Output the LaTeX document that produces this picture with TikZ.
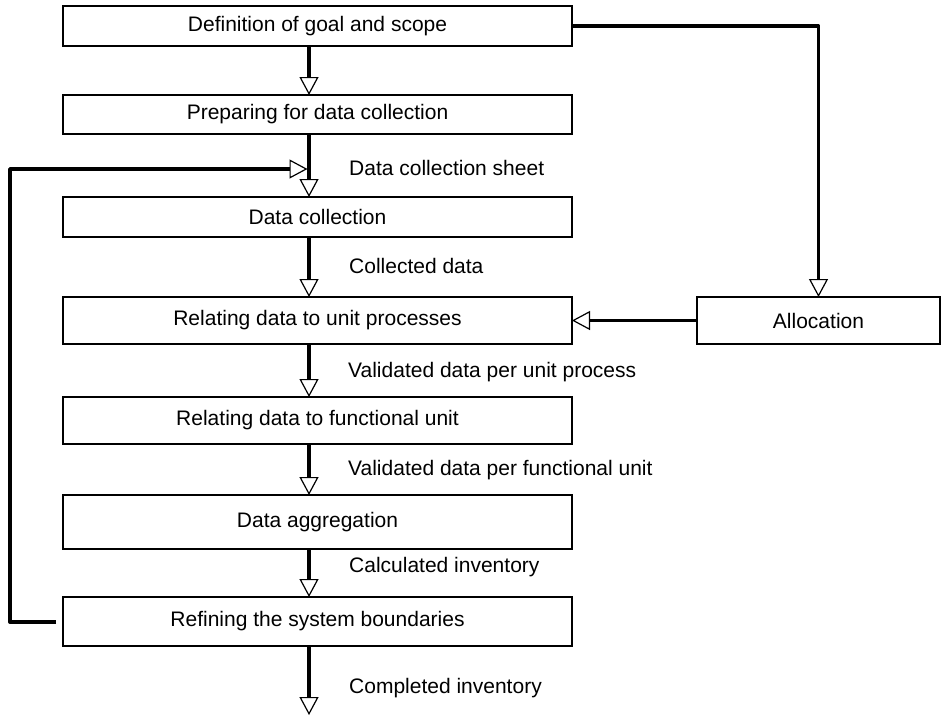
\documentclass[tikz,border=0pt]{standalone}
\usepackage{fontspec}
\setmainfont{Liberation Sans}
\usetikzlibrary{arrows.meta}
\begin{document}
\begin{tikzpicture}[x=1pt,y=-1pt,
  box/.style={draw, line width=1.2pt, inner sep=0pt, outer sep=0pt, minimum width=509pt, font=\fontsize{21}{25}\selectfont},
  lbl/.style={anchor=west, inner sep=0pt, font=\fontsize{21}{25}\selectfont},
  flow/.style={line width=3.8pt, line join=round, -{Triangle[open, fill=white, length=18pt, width=19pt, line width=1.2pt]}}
]
\useasboundingbox (0,0) rectangle (941,716);
% boxes
\node[box, minimum height=40pt] (b1) at (317.5,26) {Definition of goal and scope};
\node[box, minimum height=39pt] (b2) at (317.5,114.5) {Preparing for data collection};
\node[box, minimum height=40pt] (b3) at (317.5,217) {Data collection};
\node[box, minimum height=47pt] (b4) at (317.5,320.5) {Relating data to unit processes};
\node[box, minimum height=47pt] (b5) at (317.5,420.5) {Relating data to functional unit};
\node[box, minimum height=54pt] (b6) at (317.5,522) {Data aggregation};
\node[box, minimum height=49pt] (b7) at (317.5,621.5) {Refining the system boundaries};
\node[box, minimum height=47pt, minimum width=243pt] (alloc) at (818.5,320.5) {Allocation};
% labels
\node[lbl] (l1) at (349,168) {Data collection sheet};
\node[lbl] (l2) at (349,266) {Collected data};
\node[lbl] (l3) at (348,372) {Validated data per unit process};
\node[lbl] (l4) at (348,470) {Validated data per functional unit};
\node[lbl] (l5) at (349,567) {Calculated inventory};
\node[lbl] (l6) at (349,688) {Completed inventory};
% helper coordinates
\coordinate (ax) at (309,0);
\coordinate (endpt) at (309,715);
\coordinate (fb0) at (56,622);
\coordinate (fb1) at (10,622);
\coordinate (fb2) at (10,169);
\coordinate (fb3) at (307.5,169);
\coordinate (al1) at (818.5,26);
% main flow
\draw[flow] (b1.south -| ax) -- (b2.north -| ax);
\draw[flow] (b2.south -| ax) -- (b3.north -| ax);
\draw[flow] (b3.south -| ax) -- (b4.north -| ax);
\draw[flow] (b4.south -| ax) -- (b5.north -| ax);
\draw[flow] (b5.south -| ax) -- (b6.north -| ax);
\draw[flow] (b6.south -| ax) -- (b7.north -| ax);
\draw[flow] (b7.south -| ax) -- (endpt);
% allocation
\draw[flow] (b1.east) -- (al1) -- (alloc.north);
\draw[flow] (alloc.west) -- (b4.east);
% feedback
\draw[flow] (fb0) -- (fb1) -- (fb2) -- (fb3);
\end{tikzpicture}
\end{document}
